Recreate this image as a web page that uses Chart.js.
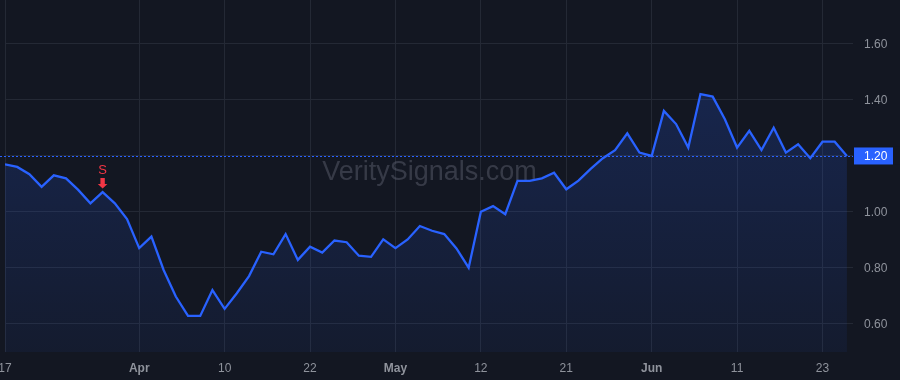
<!DOCTYPE html>
<html>
<head>
<meta charset="utf-8">
<script src="https://cdn.jsdelivr.net/npm/chart.js@4.4.1/dist/chart.umd.min.js"></script>
<style>
  html, body { margin: 0; padding: 0; background: #131722; }
  #wrap { width: 900px; height: 380px; position: relative; }
</style>
</head>
<body>
<div id="wrap"><canvas id="c" width="900" height="380"></canvas></div>
<script>
// ---- data (trading days from Mar 17 to Jun 25) ----
const values = [
  1.170, 1.161, 1.135, 1.090, 1.131, 1.120, 1.079, 1.031, 1.071, 1.031,
  0.975, 0.871, 0.912, 0.793, 0.698, 0.629, 0.629, 0.721, 0.654, 0.710,
  0.771, 0.858, 0.849, 0.921, 0.829, 0.876, 0.855, 0.898, 0.892, 0.844,
  0.840, 0.902, 0.871, 0.902, 0.950, 0.933, 0.921, 0.870, 0.801, 1.001,
  1.021, 0.992, 1.111, 1.111, 1.120, 1.140, 1.081, 1.112, 1.154, 1.192,
  1.221, 1.281, 1.212, 1.200, 1.361, 1.314, 1.230, 1.421, 1.412, 1.331,
  1.230, 1.290, 1.221, 1.301, 1.212, 1.242, 1.192, 1.251, 1.251, 1.200
];
const xTickIndex = [0, 11, 18, 25, 32, 39, 46, 53, 60, 67];
const xTickLabels = ['17', 'Apr', '10', '22', 'May', '12', '21', 'Jun', '11', '23'];
const monthLabels = ['Apr', 'May', 'Jun'];
const yTicks = [0.60, 0.80, 1.00, 1.20, 1.40, 1.60];
const lastValue = 1.20;
const signalIndex = [8];
const signalText = ['S'];
const watermark = 'VeritySignals.com';

const BG = '#131722';
const GRID = '#242935';
const TXT = '#8f939c';
const BLUE = '#2962ff';
const RED = '#f23645';
const FONT = "'Liberation Sans', Arial, sans-serif";

const points = values.map((v, i) => ({ x: i, y: v }));

const overlay = {
  id: 'overlay',
  beforeDatasetsDraw(chart) {
    const { ctx, chartArea } = chart;
    ctx.save();
    ctx.font = "27px " + FONT;
    ctx.fillStyle = 'rgba(130,135,148,0.32)';
    ctx.textAlign = 'center';
    ctx.textBaseline = 'middle';
    ctx.fillText(watermark, (chartArea.left + chartArea.right) / 2 + 0.5, 173);
    ctx.restore();
  },
  afterDatasetsDraw(chart) {
    const { ctx, chartArea, scales } = chart;
    const y = scales.y.getPixelForValue(lastValue);
    ctx.save();
    ctx.strokeStyle = BLUE;
    ctx.lineWidth = 1;
    ctx.setLineDash([2, 2]);
    ctx.beginPath();
    ctx.moveTo(0, Math.round(y) + 0.5);
    ctx.lineTo(chartArea.right, Math.round(y) + 0.5);
    ctx.stroke();
    ctx.restore();
    signalIndex.forEach((idx, k) => {
      const px = scales.x.getPixelForValue(idx);
      const py = scales.y.getPixelForValue(values[idx]);
      ctx.save();
      ctx.fillStyle = RED;
      ctx.font = "13px " + FONT;
      ctx.textAlign = 'center';
      ctx.textBaseline = 'middle';
      ctx.fillText(signalText[k], px, py - 22);
      const top = py - 14, mid = py - 8, bot = py - 3.5;
      ctx.beginPath();
      ctx.moveTo(px - 2.2, top);
      ctx.lineTo(px + 2.2, top);
      ctx.lineTo(px + 2.2, mid);
      ctx.lineTo(px + 4.8, mid);
      ctx.lineTo(px, bot);
      ctx.lineTo(px - 4.8, mid);
      ctx.lineTo(px - 2.2, mid);
      ctx.closePath();
      ctx.fill();
      ctx.restore();
    });
  },
  afterDraw(chart) {
    const { ctx, chartArea, scales } = chart;
    const y = scales.y.getPixelForValue(lastValue);
    ctx.save();
    ctx.fillStyle = BG;
    ctx.fillRect(chartArea.right + 1, y - 9, 46, 18);
    ctx.fillStyle = BLUE;
    ctx.fillRect(chartArea.right + 1, y - 8.5, 39, 17);
    ctx.fillStyle = '#ffffff';
    ctx.font = "12px " + FONT;
    ctx.textAlign = 'left';
    ctx.textBaseline = 'middle';
    ctx.fillText(lastValue.toFixed(2), chartArea.right + 11, y + 1);
    ctx.restore();
  }
};

const bgPlugin = {
  id: 'bg',
  beforeDraw(chart) {
    const { ctx } = chart;
    ctx.save();
    ctx.fillStyle = BG;
    ctx.fillRect(0, 0, chart.width, chart.height);
    ctx.restore();
  }
};

new Chart(document.getElementById('c'), {
  type: 'line',
  data: {
    datasets: [{
      data: points,
      borderColor: BLUE,
      borderWidth: 2.3,
      pointRadius: 0,
      tension: 0,
      fill: 'start',
      backgroundColor(ctx) {
        const ca = ctx.chart.chartArea;
        if (!ca) return 'rgba(41,98,255,0.1)';
        const g = ctx.chart.ctx.createLinearGradient(0, ca.top, 0, ca.bottom);
        g.addColorStop(0, 'rgba(41,98,255,0.24)');
        g.addColorStop(1, 'rgba(41,98,255,0.06)');
        return g;
      }
    }]
  },
  options: {
    responsive: false,
    animation: false,
    events: [],
    layout: { padding: 0 },
    plugins: { legend: { display: false }, tooltip: { enabled: false } },
    scales: {
      x: {
        type: 'linear',
        min: 0,
        max: 69.5,
        border: { display: false },
        grid: { color: GRID, drawTicks: false },
        afterBuildTicks(scale) { scale.ticks = xTickIndex.map(v => ({ value: v })); },
        afterFit(scale) { scale.height = 28; scale.paddingLeft = 5; scale.paddingRight = 0; },
        ticks: {
          autoSkip: false,
          maxRotation: 0,
          padding: 9,
          color: TXT,
          font(ctx) {
            const i = xTickIndex.indexOf(ctx.tick ? ctx.tick.value : -1);
            const lbl = i >= 0 ? xTickLabels[i] : '';
            return { family: FONT, size: 12, weight: monthLabels.includes(lbl) ? 'bold' : 'normal' };
          },
          callback(v) { const i = xTickIndex.indexOf(v); return i >= 0 ? xTickLabels[i] : ''; }
        }
      },
      y: {
        position: 'right',
        min: 0.5,
        max: 1.757,
        border: { display: false },
        grid: { color: GRID, drawTicks: false },
        afterBuildTicks(scale) { scale.ticks = yTicks.map(v => ({ value: v })); },
        afterFit(scale) { scale.width = 47; scale.paddingTop = 0; scale.paddingBottom = 0; },
        ticks: {
          padding: 11,
          labelOffset: 1,
          color: TXT,
          font: { family: FONT, size: 12 },
          callback(v) { return v.toFixed(2); }
        }
      }
    }
  },
  plugins: [bgPlugin, overlay]
});
</script>
</body>
</html>
